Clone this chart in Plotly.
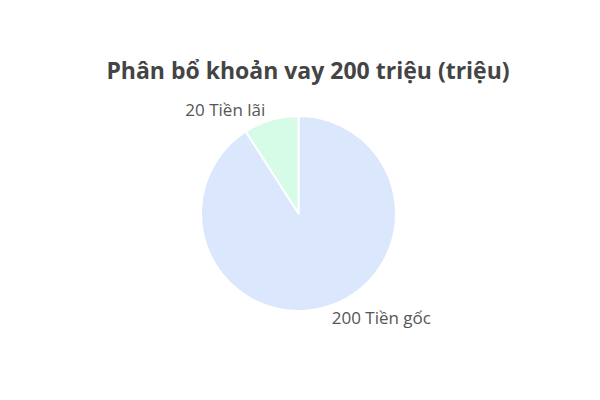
import plotly.graph_objects as go

# du lieu
nhan = ["Tiền gốc", "Tiền lãi"]
gia_tri = [200, 20]
mau = ["#dbe7fd", "#d6fbe6"]

fig = go.Figure(go.Pie(
    labels=nhan, values=gia_tri,
    sort=False, direction="clockwise", rotation=0,
    marker=dict(colors=mau, line=dict(color="white", width=2)),
    texttemplate="%{value} %{label}", textposition="outside",
    textfont=dict(size=17, color="#555555"),
    hoverinfo="label+value",
))

fig.update_layout(
    title=dict(text="<b>Phân bổ khoản vay 200 triệu (triệu)</b>", x=0.5, y=0.842,
               xanchor="center", yanchor="middle",
               font=dict(size=23, color="#444444", family="Open Sans, sans-serif")),
    font=dict(family="Open Sans, sans-serif"),
    showlegend=False,
    margin=dict(l=4, r=0, t=108, b=97),
    paper_bgcolor="white",
    width=600, height=400,
)

fig.write_html("out.html")
